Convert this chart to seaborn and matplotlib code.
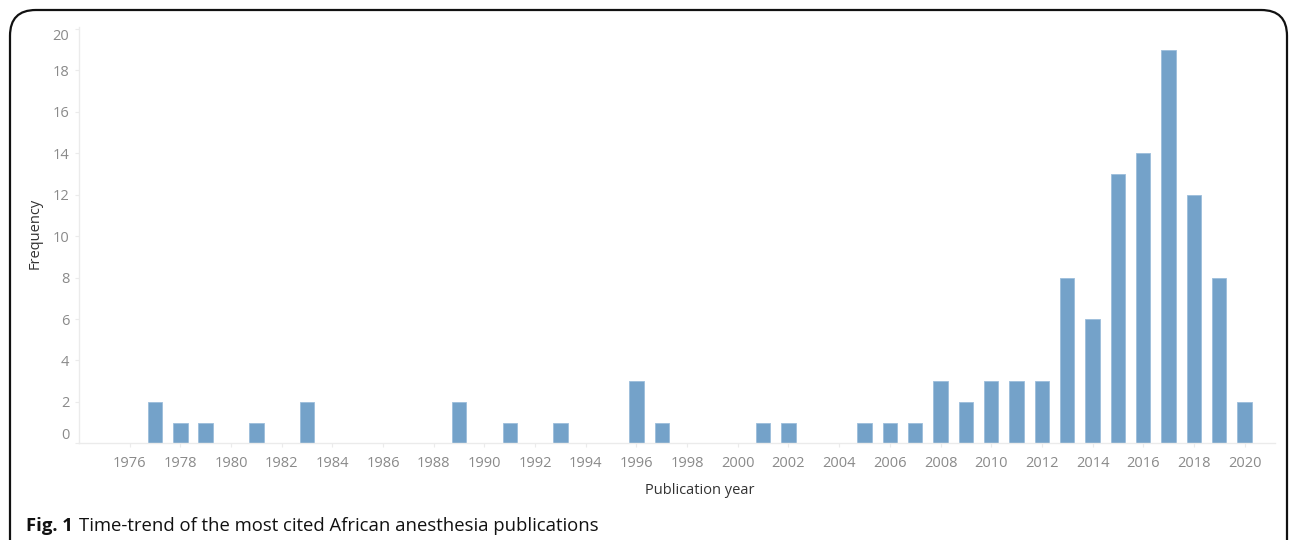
import numpy as np
import pandas as pd
import seaborn as sns
import matplotlib.pyplot as plt
from matplotlib.patches import FancyBboxPatch

sns.set_theme(style="white")
plt.rcParams['font.family'] = ['Open Sans', 'DejaVu Sans']

# Dados (anos sem publicacao ficam de fora)
anos = [1977, 1978, 1979, 1981, 1983, 1989, 1991, 1993, 1996, 1997,
        2001, 2002, 2005, 2006, 2007, 2008, 2009, 2010, 2011, 2012,
        2013, 2014, 2015, 2016, 2017, 2018, 2019, 2020]
frequencia = [2, 1, 1, 1, 2, 2, 1, 1, 3, 1,
              1, 1, 1, 1, 1, 3, 2, 3, 3, 3,
              8, 6, 13, 14, 19, 12, 8, 2]
anos_ticks = list(range(1976, 2021, 2))
freq_ticks = list(range(0, 21, 2))

df = pd.DataFrame({"Ano": anos, "Frequencia": frequencia})

cor_barra = "#74a2c9"
cor_texto = "#8a8a8a"
cor_eixo = "#ebebeb"

fig = plt.figure(figsize=(12.92, 5.40), dpi=100)
ax = fig.add_axes([79 / 1292, 0.179, 1196 / 1292, 0.771])

sns.barplot(data=df, x="Ano", y="Frequencia", native_scale=True, width=0.57,
            color=cor_barra, saturation=1, edgecolor="#9cbddb", linewidth=0.6, ax=ax)

ax.set_xlim(1974.0, 2021.2)
ax.set_ylim(0, 20.1)
ax.set_xticks(anos_ticks)
ax.set_xticklabels([str(a) for a in anos_ticks])
ax.set_yticks(freq_ticks)
ax.set_yticklabels([str(f) for f in freq_ticks])

ax.tick_params(axis="both", colors=cor_eixo, labelcolor=cor_texto, labelsize=10.5,
               length=3, width=0.8, left=True, bottom=True)
ax.tick_params(axis="x", pad=6)
ax.tick_params(axis="y", pad=4)

# ajustar rotulos extremos como no original
rotulos_y = ax.get_yticklabels()
rotulos_y[0].set_verticalalignment("bottom")
rotulos_y[-1].set_verticalalignment("top")

for lado in ["top", "right"]:
    ax.spines[lado].set_visible(False)
for lado in ["left", "bottom"]:
    ax.spines[lado].set_color(cor_eixo)
    ax.spines[lado].set_linewidth(1.0)

ax.set_xlabel("")
ax.set_ylabel("")
fig.text(700 / 1292, 1 - 490 / 540, "Publication year", ha="center", va="center",
         fontsize=10.5, color="#333333")
fig.text(35 / 1292, 1 - 233 / 540, "Frequency", ha="center", va="center",
         rotation=90, fontsize=10.5, color="#333333")

# legenda da figura: parte em negrito seguida do texto normal
t_fig = fig.text(26 / 1292, 1 - 526 / 540, "Fig. 1", ha="left", va="center",
                 fontsize=13.3, fontweight="bold", color="#111111")
fig.canvas.draw()
bb = t_fig.get_window_extent()
fig.text(bb.x1 / 1292 + 6 / 1292, 1 - 526 / 540,
         "Time-trend of the most cited African anesthesia publications",
         ha="left", va="center", fontsize=13.3, color="#111111")

# moldura arredondada
moldura = FancyBboxPatch((10 / 1292, -0.1), 1277 / 1292, 1.1 - 10 / 540,
                         boxstyle="round,pad=0,rounding_size=0.02",
                         transform=fig.transFigure, fill=False,
                         edgecolor="#111111", linewidth=1.6, mutation_aspect=1292 / 540)
fig.patches.append(moldura)

fig.savefig("out.png", dpi=100)
plt.close()
